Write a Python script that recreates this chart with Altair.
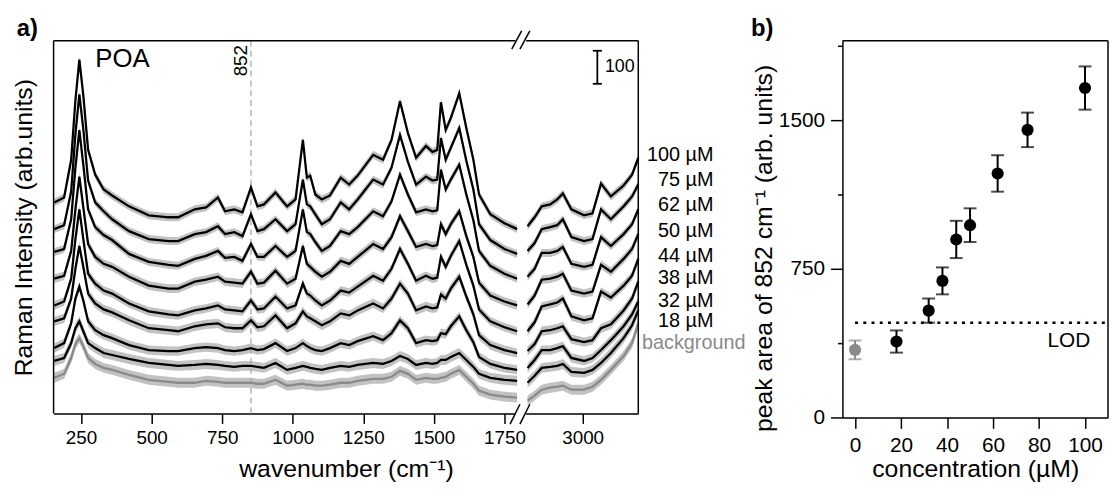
import altair as alt
import pandas as pd

# ---------------- panel a : spectra ----------------
WN_LOW = [155, 190, 215, 230, 244, 258, 275, 300, 330, 360, 420, 490, 560, 594, 653, 693, 735, 760, 793, 822,
          852, 875, 898, 939, 980, 1010, 1036, 1050, 1062, 1080, 1103, 1132, 1170, 1200, 1230, 1285, 1320, 1350,
          1380, 1408, 1437, 1472, 1495, 1512, 1525, 1542, 1560, 1590, 1615, 1640, 1660, 1700, 1750, 1795]
WN_HIGH = [2805, 2830, 2855, 2885, 2910, 2930, 2960, 3005, 3035, 3065, 3100, 3145, 3175, 3197]

SERIES = ["100 µM", "75 µM", "62 µM", "50 µM", "44 µM", "38 µM", "32 µM", "18 µM", "background"]

LOW_100 = [639, 654, 768, 948, 1071, 963, 798, 723, 678, 660, 627, 600, 594, 594, 618, 624, 654, 612, 618, 609,
           684, 627, 633, 669, 627, 648, 828, 714, 720, 663, 648, 660, 714, 693, 720, 783, 768, 828, 945, 849,
           774, 810, 792, 798, 942, 858, 894, 969, 864, 768, 663, 603, 576, 558]
LOW_75 = [558, 570, 672, 846, 966, 861, 705, 639, 612, 588, 552, 528, 522, 522, 543, 549, 567, 543, 549, 537,
          603, 552, 558, 588, 552, 573, 708, 633, 627, 603, 573, 588, 639, 618, 648, 708, 693, 744, 843, 762,
          693, 717, 705, 708, 834, 768, 804, 864, 765, 678, 573, 525, 498, 483]
LOW_62 = [489, 498, 588, 744, 858, 753, 618, 564, 540, 525, 483, 459, 450, 447, 468, 477, 492, 471, 474, 462,
          513, 474, 474, 507, 474, 492, 618, 549, 543, 519, 492, 507, 552, 543, 564, 612, 597, 642, 723, 663,
          609, 618, 612, 615, 738, 678, 708, 753, 663, 585, 492, 447, 423, 408]
LOW_50 = [408, 417, 492, 618, 717, 624, 513, 474, 453, 444, 414, 387, 378, 378, 399, 405, 414, 399, 396, 393,
          429, 393, 396, 432, 393, 408, 507, 453, 444, 429, 414, 429, 462, 453, 474, 513, 498, 534, 597, 552,
          504, 513, 507, 510, 573, 543, 573, 612, 537, 474, 396, 357, 339, 327]
LOW_44 = [327, 339, 408, 528, 618, 528, 423, 393, 372, 363, 333, 309, 300, 297, 312, 318, 327, 315, 312, 309,
          342, 315, 318, 354, 318, 327, 393, 363, 357, 342, 327, 342, 372, 366, 384, 417, 402, 438, 498, 453,
          402, 417, 408, 411, 474, 444, 477, 522, 450, 387, 315, 279, 261, 249]
LOW_38 = [279, 288, 348, 438, 507, 444, 363, 333, 315, 306, 282, 258, 252, 249, 264, 270, 273, 261, 258, 258,
          282, 261, 264, 297, 258, 273, 309, 294, 288, 279, 267, 279, 303, 297, 312, 333, 318, 348, 393, 363,
          312, 324, 318, 321, 360, 348, 378, 414, 354, 300, 237, 207, 192, 183]
LOW_32 = [198, 213, 273, 348, 384, 342, 279, 252, 237, 228, 207, 192, 189, 189, 198, 201, 198, 192, 189, 192,
          198, 192, 195, 213, 189, 198, 213, 204, 198, 192, 189, 198, 213, 207, 219, 234, 222, 243, 282, 258,
          213, 222, 219, 222, 243, 240, 264, 294, 252, 216, 171, 150, 138, 132]
LOW_18 = [159, 168, 213, 258, 279, 249, 213, 198, 183, 177, 165, 153, 147, 144, 147, 150, 147, 144, 141, 144,
          144, 141, 138, 153, 132, 138, 144, 141, 138, 135, 132, 138, 144, 141, 147, 153, 150, 159, 174, 165,
          147, 153, 150, 153, 162, 162, 171, 183, 162, 141, 120, 108, 102, 99]
LOW_BG = [108, 120, 168, 210, 228, 204, 168, 150, 138, 132, 117, 102, 96, 93, 93, 99, 96, 93, 93, 93,
          93, 90, 90, 102, 84, 87, 90, 87, 87, 84, 84, 87, 93, 93, 99, 105, 105, 111, 129, 120,
          102, 108, 105, 105, 108, 111, 120, 132, 111, 90, 69, 57, 51, 48]

HIGH_100 = [567, 594, 627, 633, 648, 666, 618, 600, 606, 696, 657, 690, 723, 774]
HIGH_75 = [492, 516, 558, 564, 570, 588, 534, 522, 528, 618, 588, 627, 657, 693]
HIGH_62 = [414, 438, 486, 486, 492, 504, 453, 444, 450, 534, 507, 543, 573, 618]
HIGH_50 = [330, 357, 405, 408, 414, 423, 372, 363, 369, 450, 429, 468, 498, 543]
HIGH_44 = [249, 276, 324, 330, 336, 348, 294, 282, 288, 369, 351, 387, 417, 468]
HIGH_38 = [189, 210, 249, 252, 258, 264, 225, 216, 222, 258, 270, 312, 348, 399]
HIGH_32 = [138, 162, 192, 192, 198, 204, 168, 159, 168, 192, 222, 264, 300, 339]
HIGH_18 = [93, 114, 138, 141, 144, 150, 126, 123, 132, 153, 183, 228, 267, 312]
HIGH_BG = [39, 54, 72, 78, 81, 84, 72, 72, 81, 102, 132, 174, 213, 273]

BAND_HALF = [12, 12, 12, 13, 13, 14, 14, 15, 15]

LOWS = [LOW_100, LOW_75, LOW_62, LOW_50, LOW_44, LOW_38, LOW_32, LOW_18, LOW_BG]
HIGHS = [HIGH_100, HIGH_75, HIGH_62, HIGH_50, HIGH_44, HIGH_38, HIGH_32, HIGH_18, HIGH_BG]

LABEL_Y = [783, 708, 630, 552, 477, 411, 339, 279, 213]

# ---------------- panel b : peak area ----------------
CONC = [0, 18, 32, 38, 44, 50, 62, 75, 100]
AREA = [341, 383, 539, 689, 898, 970, 1231, 1451, 1662]
ERR = [47, 56, 61, 68, 94, 85, 92, 87, 109]
LOD = 478

FONT = "Liberation Sans"

rows = []
for name, low, high, sd in zip(SERIES, LOWS, HIGHS, BAND_HALF):
    for seg, wns, vals in (("low", WN_LOW, low), ("high", WN_HIGH, high)):
        for w, v in zip(wns, vals):
            rows.append({"series": name, "segment": seg, "wn": w, "I": v, "lo": v - sd, "hi": v + sd})
spec = pd.DataFrame(rows)

XA_MIN, XA_BREAK_L, XA_BREAK_R, XA_MAX = 152.7, 1811, 2784, 3197
YA_MAX = 1128
xs_a = alt.Scale(domain=[XA_MIN, XA_BREAK_L, XA_BREAK_R, XA_MAX], range=[0, 472.3, 472.3, 590],
                 nice=False, zero=False)
ys_a = alt.Scale(domain=[0, YA_MAX], nice=False, zero=False)
XT_A = "wavenumber  (cm⁻¹)"
YT_A = "Raman Intensity (arb.units)"

ax_a = alt.Axis(values=[250, 375, 500, 625, 750, 875, 1000, 1125, 1250, 1375, 1500, 1625, 1750, 2875, 3000, 3125],
                format="d", labelExpr="datum.value % 250 == 0 ? datum.label : ''",
                tickSize={"condition": {"test": "datum.value % 250 == 0", "value": 10}, "value": 5},
                labelFontSize=19, labelPadding=5, titleFontSize=25, titlePadding=10, labelFlush=False)
ay_a = alt.Axis(labels=False, ticks=False, domain=False, titleFontSize=25, titlePadding=17)


def XA(f):
    return alt.X(f, scale=xs_a, title=XT_A)


def YA(f):
    return alt.Y(f, scale=ys_a, title=YT_A)


color_a = alt.Color("series:N", scale=alt.Scale(domain=SERIES, range=["#000000"] * 8 + ["#8a8a8a"]), legend=None)

base_a = alt.Chart(spec)
bands = base_a.mark_area(color="#c2c2c2").encode(
    x=alt.X("wn:Q", scale=xs_a, axis=ax_a, title=XT_A),
    y=alt.Y("lo:Q", scale=ys_a, axis=ay_a, title=YT_A),
    y2="hi:Q",
    detail=["series:N", "segment:N"],
)
lines = base_a.mark_line(strokeWidth=2.3).encode(x=XA("wn:Q"), y=YA("I:Q"), color=color_a, detail="segment:N")

frame_a = alt.Chart(pd.DataFrame({"x0": [XA_MIN, XA_MIN, XA_MAX], "x1": [XA_MAX, XA_MIN, XA_MAX],
                                  "y0": [YA_MAX, 0, 0], "y1": [YA_MAX, YA_MAX, YA_MAX]})).mark_rule(
    color="black", strokeWidth=1.5).encode(x=XA("x0:Q"), x2="x1:Q", y=YA("y0:Q"), y2="y1:Q")

mark852 = alt.Chart(pd.DataFrame({"wn": [852], "y0": [0], "y1": [YA_MAX]})).mark_rule(
    color="#aaaaaa", strokeDash=[6, 4], strokeWidth=1.3).encode(x=XA("wn:Q"), y=YA("y0:Q"), y2="y1:Q")
txt852 = alt.Chart(pd.DataFrame({"wn": [852], "y": [1071], "t": ["852"]})).mark_text(
    angle=270, align="center", baseline="bottom", fontSize=19, dx=-1, font=FONT).encode(
    x=XA("wn:Q"), y=YA("y:Q"), text="t:N")
poa = alt.Chart(pd.DataFrame({"wn": [397], "y": [1074], "t": ["POA"]})).mark_text(
    align="center", baseline="middle", fontSize=26, font=FONT).encode(x=XA("wn:Q"), y=YA("y:Q"), text="t:N")
tag_a = alt.Chart(pd.DataFrame({"wn": [22], "y": [1164], "t": ["a)"]})).mark_text(
    align="left", baseline="middle", fontSize=24, fontWeight="bold", font=FONT).encode(
    x=XA("wn:Q"), y=YA("y:Q"), text="t:N")

# scale bar (100 intensity units)
sb_v = alt.Chart(pd.DataFrame({"wn": [3052], "y0": [998], "y1": [1098]})).mark_rule(
    strokeWidth=1.8, color="black").encode(x=XA("wn:Q"), y=YA("y0:Q"), y2="y1:Q")
sb_c = alt.Chart(pd.DataFrame({"x0": [3036, 3036], "x1": [3068, 3068], "y": [998, 1098]})).mark_rule(
    strokeWidth=1.8, color="black").encode(x=XA("x0:Q"), x2="x1:Q", y=YA("y:Q"))
sb_t = alt.Chart(pd.DataFrame({"wn": [3079], "y": [1048], "t": ["100"]})).mark_text(
    align="left", baseline="middle", fontSize=18, font=FONT).encode(x=XA("wn:Q"), y=YA("y:Q"), text="t:N")

lab_df = pd.DataFrame({"t": SERIES[:-1], "wn": [3463] * 8, "y": LABEL_Y[:-1]})
labs = alt.Chart(lab_df).mark_text(align="right", baseline="middle", fontSize=20, font=FONT, color="black").encode(
    x=XA("wn:Q"), y=YA("y:Q"), text="t:N")
lab_bg = alt.Chart(pd.DataFrame({"t": [SERIES[-1]], "wn": [3210], "y": [LABEL_Y[-1]]})).mark_text(
    align="left", baseline="middle", fontSize=20, font=FONT, color="#8a8a8a").encode(
    x=XA("wn:Q"), y=YA("y:Q"), text="t:N")

# axis break
gap = alt.Chart(pd.DataFrame({"x0": [1789, 1789], "x1": [2800, 2800], "y": [0, YA_MAX]})).mark_rule(
    color="white", strokeWidth=4).encode(x=XA("x0:Q"), x2="x1:Q", y=YA("y:Q"))
slash_df = pd.DataFrame({"x0": [1770, 1805, 1776, 1805], "x1": [1805, 2813, 1811, 2813],
                         "y0": [-32, -32, 1103, 1103], "y1": [28, 28, 1158, 1158]})
slashes = alt.Chart(slash_df).mark_rule(color="black", strokeWidth=1.5).encode(
    x=XA("x0:Q"), x2="x1:Q", y=YA("y0:Q"), y2="y1:Q")

panel_a = alt.layer(bands, mark852, lines, frame_a, txt852, poa, tag_a, sb_v, sb_c, sb_t, labs, lab_bg,
                    gap, slashes).properties(width=590, height=376)

# ---------------- panel b ----------------
pb = pd.DataFrame({"conc": CONC, "area": AREA,
                   "lo": [a - e for a, e in zip(AREA, ERR)], "hi": [a + e for a, e in zip(AREA, ERR)],
                   "grp": ["background"] + ["sample"] * (len(CONC) - 1)})
XB_MIN, XB_MAX, YB_MAX = -5.5, 110, 1900
xs_b = alt.Scale(domain=[XB_MIN, XB_MAX], nice=False, zero=False)
ys_b = alt.Scale(domain=[0, YB_MAX], nice=False, zero=False)
XT_B = "concentration (µM)"
YT_B = "peak area of 852 cm⁻¹ (arb. units)"
ax_b = alt.Axis(values=list(range(0, 111, 10)), format="d", labelExpr="datum.value % 20 == 0 ? datum.label : ''",
                tickSize={"condition": {"test": "datum.value % 20 == 0", "value": 11}, "value": 6},
                labelFontSize=21, labelPadding=6, titleFontSize=25, titlePadding=2, labelFlush=False)
ay_b = alt.Axis(values=[0, 375, 750, 1125, 1500, 1875], format="d",
                labelExpr="datum.value % 750 == 0 ? datum.label : ''",
                tickSize={"condition": {"test": "datum.value % 750 == 0", "value": 12}, "value": 5},
                labelFontSize=21, labelPadding=6, titleFontSize=25, titlePadding=2, labelFlush=False, titleY=209)
color_b = alt.Color("grp:N", scale=alt.Scale(domain=["background", "sample"], range=["#8a8a8a", "#000000"]),
                    legend=None)


def XB(f):
    return alt.X(f, scale=xs_b, title=XT_B)


def YB(f):
    return alt.Y(f, scale=ys_b, title=YT_B)


ebar = alt.Chart(pb).mark_errorbar(ticks=True, size=13, thickness=2).encode(
    x=alt.X("conc:Q", scale=xs_b, axis=ax_b, title=XT_B),
    y=alt.Y("lo:Q", scale=ys_b, axis=ay_b, title=YT_B), y2="hi:Q", color=color_b)
pts = alt.Chart(pb).mark_circle(size=150, opacity=1).encode(x=XB("conc:Q"), y=YB("area:Q"), color=color_b)
lod = alt.Chart(pd.DataFrame({"x0": [0], "x1": [XB_MAX], "y": [LOD]})).mark_rule(
    color="black", strokeWidth=2.5, strokeDash=[3, 5.3]).encode(x=XB("x0:Q"), x2="x1:Q", y=YB("y:Q"))
lod_t = alt.Chart(pd.DataFrame({"x": [93], "y": [386], "t": ["LOD"]})).mark_text(
    align="center", baseline="middle", fontSize=21, font=FONT).encode(x=XB("x:Q"), y=YB("y:Q"), text="t:N")
frame_b = alt.Chart(pd.DataFrame({"x0": [XB_MIN, XB_MAX], "x1": [XB_MAX, XB_MAX],
                                  "y0": [YB_MAX, 0], "y1": [YB_MAX, YB_MAX]})).mark_rule(
    color="black", strokeWidth=1.5).encode(x=XB("x0:Q"), x2="x1:Q", y=YB("y0:Q"), y2="y1:Q")
tag_b = alt.Chart(pd.DataFrame({"x": [-45.3], "y": [1960], "t": ["b)"]})).mark_text(
    align="left", baseline="middle", fontSize=24, fontWeight="bold", font=FONT).encode(
    x=XB("x:Q"), y=YB("y:Q"), text="t:N")

panel_b = alt.layer(ebar, frame_b, lod, pts, lod_t, tag_b).properties(width=268, height=380)

chart = alt.hconcat(panel_a, panel_b, spacing=4).properties(
    padding={"left": 4, "top": 6, "right": 0, "bottom": 0}
).configure(font=FONT).configure_view(strokeWidth=0).configure_axis(
    grid=False, labelFont=FONT, titleFont=FONT, labelColor="black", titleColor="black",
    tickColor="black", domainColor="black", tickWidth=1.5, domainWidth=1.5, titleFontWeight="normal")

chart.save("out.html", embed_options={"renderer": "svg", "actions": False})
